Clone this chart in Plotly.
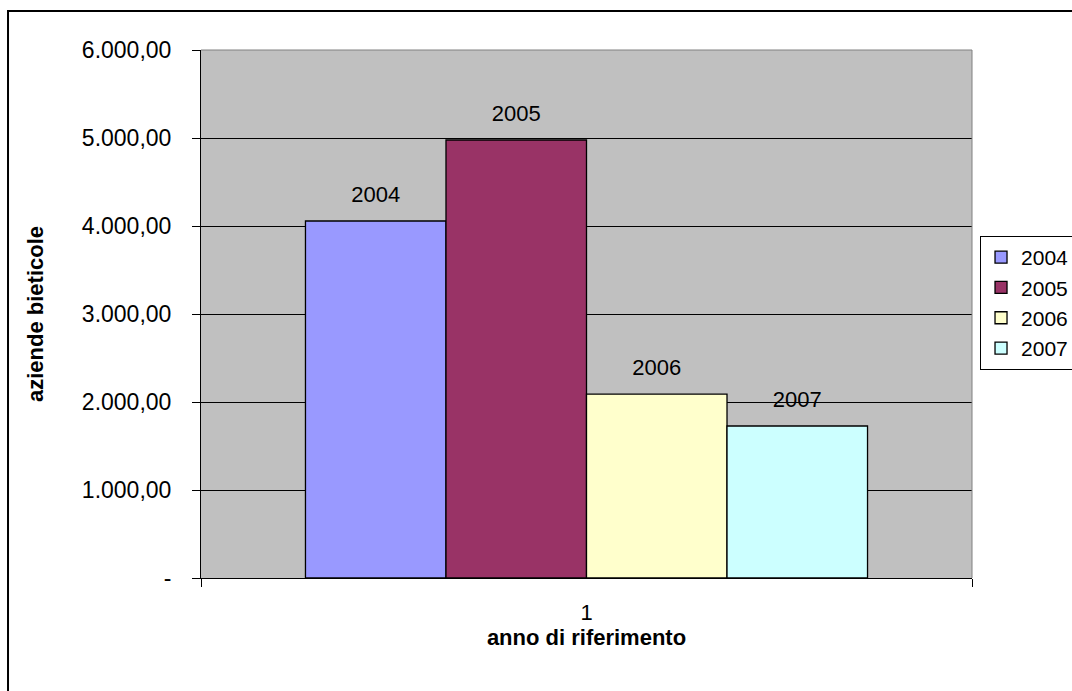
import plotly.graph_objects as go

# dati
anni = ["2004", "2005", "2006", "2007"]
aziende = [4057, 4977, 2090, 1727]
categoria = ["1"]
colori = ["#9999FF", "#993366", "#FFFFCC", "#CCFFFF"]

y_tickvals = [0, 1000, 2000, 3000, 4000, 5000, 6000]
y_ticktext = ["-", "1.000,00", "2.000,00", "3.000,00", "4.000,00", "5.000,00", "6.000,00"]

FONT = "Arial, Liberation Sans, sans-serif"

fig = go.Figure()
for anno, val, col in zip(anni, aziende, colori):
    fig.add_trace(go.Bar(
        name=anno,
        x=categoria,
        y=[val],
        marker=dict(color=col, line=dict(color="black", width=1.3)),
        # riga vuota trasparente per alzare l'etichetta sopra la barra
        text=[f"<span style='font-size:22px'>{anno}</span><br>"
              "<span style='color:rgba(0,0,0,0)'>.</span>"],
        textposition="outside",
        textfont=dict(size=11, color="black", family=FONT),
        cliponaxis=False,
        hoverinfo="skip",
    ))

fig.update_layout(
    width=1072, height=691,
    margin=dict(l=201, r=100, t=50, b=113, autoexpand=False),
    paper_bgcolor="white",
    plot_bgcolor="#C0C0C0",
    barmode="group",
    bargap=0.271,
    bargroupgap=0,
    font=dict(family=FONT, size=22, color="black"),
    legend=dict(
        x=1.0104, xanchor="left",
        y=0.6477, yanchor="top",
        bordercolor="black", borderwidth=1,
        font=dict(size=21),
        bgcolor="white",
    ),
    shapes=[
        # cornice esterna
        dict(type="rect", xref="paper", yref="paper",
             x0=-0.2503, x1=1.2, y0=-0.3, y1=1.0739,
             line=dict(color="black", width=2), layer="below"),
        # bordo grigio dell'area del grafico (alto e destra)
        dict(type="line", xref="paper", yref="paper", x0=0, x1=1, y0=1, y1=1,
             line=dict(color="#808080", width=1), layer="above"),
        dict(type="line", xref="paper", yref="paper", x0=1, x1=1, y0=0, y1=1,
             line=dict(color="#808080", width=1), layer="above"),
    ],
)

fig.update_yaxes(
    range=[0, 6000],
    tickvals=y_tickvals, ticktext=y_ticktext,
    ticks="outside", ticklen=8, tickcolor="black",
    ticklabelstandoff=16,
    showgrid=True, gridcolor="black", gridwidth=1,
    showline=True, linecolor="black", linewidth=1,
    zeroline=False,
    title=dict(text="<b>aziende bieticole</b>", font=dict(size=22), standoff=32),
    tickfont=dict(size=23),
)

fig.update_xaxes(
    type="category",
    tickson="boundaries",
    ticks="outside", ticklen=8, tickcolor="black",
    ticklabelstandoff=15,
    showline=True, linecolor="black", linewidth=1,
    showgrid=False,
    title=dict(text="<b>anno di riferimento</b>", font=dict(size=22), standoff=0),
    tickfont=dict(size=22),
)

fig.write_html("out.html", config={"displayModeBar": False},
               post_script="document.body.style.margin='0';")
